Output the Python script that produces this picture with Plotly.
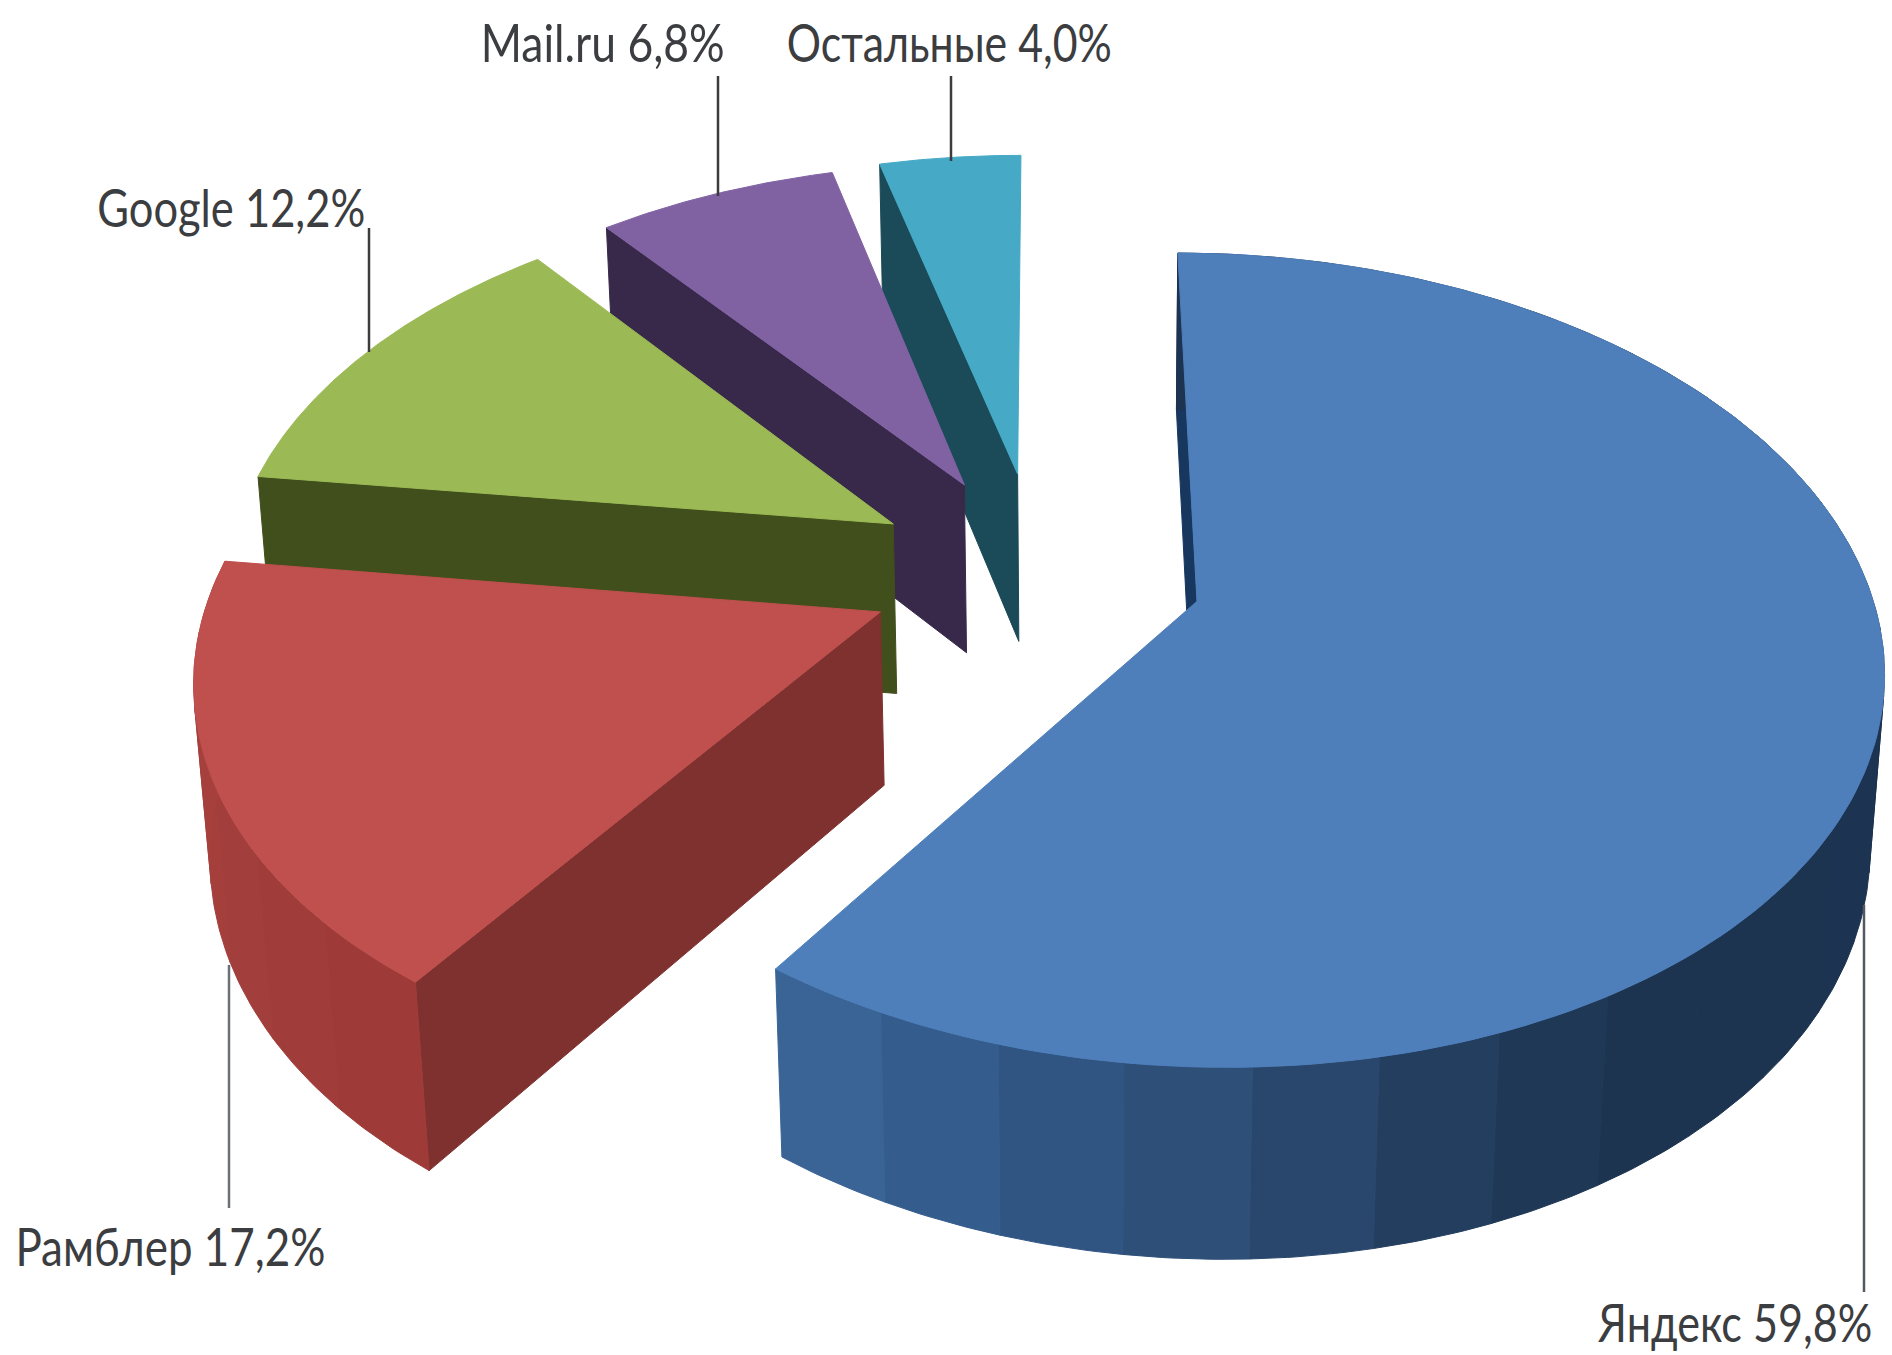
import json
import numpy as np
import plotly.graph_objects as go

categories = ["Яндекс", "Рамблер", "Google", "Mail.ru", "Остальные"]
shares = [59.8, 17.2, 12.2, 6.8, 4.0]
share_text = ["59,8%", "17,2%", "12,2%", "6,8%", "4,0%"]
pull = [0.2465, 0.2549, 0.2538, 0.2564, 0.2613]

top_colors = ["#4e7fbb", "#bf504d", "#9bba55", "#8062a3", "#46a9c6"]
cut_colors = ["#17375f", "#7f312f", "#404f1c", "#38294a", "#1b4a58"]
rim_angle = [[90, 150, 164, 180, 197, 215], [215, 240, 277]]
rim_color = [["#1c3351", "#1e3552", "#243f60", "#2d4e75", "#33598a", "#3b6899"],
             ["#9e3b38", "#a23e3b", "#a9423f"]]
label_xy = [(1735, 1322), (170, 1246), (231, 207), (602, 42), (949, 42)]
label_width = [274, 310, 268, 244, 325]
leaders = [(1864, 905, 1864, 1292), (229, 965, 229, 1208), (369, 228, 369, 352), (718, 76, 718, 196), (951, 76, 951, 161)]
leader_color = ["#555a60", "#6b7075", "#3c3c3c", "#3c3c3c", "#3c3c3c"]

camera = np.array([[665.577752, 149.271289, 19.62187, 1038.462129],
                   [0.209179, -308.331106, 185.093159, 571.581851],
                   [-0.001955, 0.142836, 0.018008, 1.0]])


def project(x, y, z):
    x = np.asarray(x, float)
    y = np.asarray(y, float)
    q = camera @ np.stack([x, y, np.full_like(x, z), np.ones_like(x)])
    return q[0] / q[2], q[1] / q[2]


def hex_rgb(c):
    return np.array([int(c[i:i + 2], 16) for i in (1, 3, 5)], float)


def rim_shade(i, deg):
    m = np.array([hex_rgb(c) for c in rim_color[i]])
    v = [np.interp(deg, rim_angle[i], m[:, k]) for k in range(3)]
    return "rgb(%d,%d,%d)" % tuple(v)


fig = go.Figure()


def poly(x, y, color):
    fig.add_trace(go.Scatter(x=np.append(x, x[0]), y=np.append(y, y[0]), mode="lines", fill="toself",
                             fillcolor=color, line=dict(color=color, width=1), hoverinfo="skip",
                             showlegend=False))


fr = np.cumsum([0] + shares) / sum(shares) * 2 * np.pi
for i in range(len(shares) - 1, -1, -1):
    a0, a1 = fr[i], fr[i + 1]
    mid = (a0 + a1) / 2
    ox, oy = pull[i] * np.sin(mid), pull[i] * np.cos(mid)
    # cut face at the start of the slice
    sx, sy = ox + np.sin(a0), oy + np.cos(a0)
    xa, ya = project([ox, sx], [oy, sy], 0)
    xb, yb = project([sx, ox], [sy, oy], 1)
    poly(np.r_[xa, xb], np.r_[ya, yb], cut_colors[i])
    # rim in flat bands, only on the slices that face the viewer
    if i < len(rim_color):
        nb = max(1, int(np.degrees(a1 - a0) / 9))
        ed = np.linspace(a0, a1, nb + 1)
        for k in range(nb):
            a = np.linspace(ed[k], ed[k + 1], 14)
            xa, ya = project(ox + np.sin(a), oy + np.cos(a), 0)
            xb, yb = project(ox + np.sin(a[::-1]), oy + np.cos(a[::-1]), 1)
            poly(np.r_[xa, xb], np.r_[ya, yb], rim_shade(i, np.degrees((ed[k] + ed[k + 1]) / 2)))
    # top face
    a = np.linspace(a0, a1, 160)
    xt, yt = project(np.r_[ox, ox + np.sin(a)], np.r_[oy, oy + np.cos(a)], 0)
    poly(xt, yt, top_colors[i])

shapes = [dict(type="line", x0=l[0], y0=l[1], x1=l[2], y1=l[3], line=dict(color=c, width=2.5))
          for l, c in zip(leaders, leader_color)]
notes = [dict(x=p[0], y=p[1], text=f"{n} {s}", showarrow=False, xanchor="center", yanchor="middle",
              font=dict(family="Lato, Roboto, sans-serif", size=52, color="#3b3d40"))
         for n, s, p in zip(categories, share_text, label_xy)]

fig.update_layout(width=1892, height=1355, margin=dict(l=0, r=0, t=0, b=0), paper_bgcolor="white",
                  plot_bgcolor="white", shapes=shapes, annotations=notes, showlegend=False,
                  xaxis=dict(range=[0, 1892], visible=False, fixedrange=True),
                  yaxis=dict(range=[1355, 0], visible=False, fixedrange=True))
# the reference lettering is condensed: fit each label to its measured width
squeeze = ("document.body.style.margin='0';var w=" + json.dumps(label_width) + ";"
           "document.querySelectorAll('.annotation-text').forEach(function(t,i){"
           "t.setAttribute('textLength',w[i]);t.setAttribute('lengthAdjust','spacingAndGlyphs');});")
fig.write_html("out.html", post_script=squeeze, config=dict(displayModeBar=False))
